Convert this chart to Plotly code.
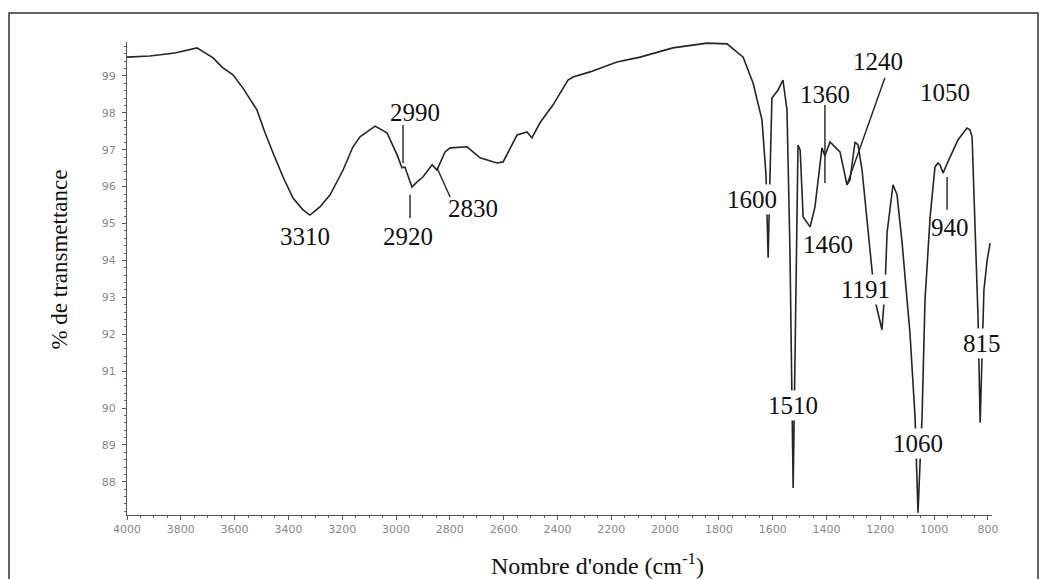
import plotly.graph_objects as go

# ---- data ----
wavenumber = [4000, 3915, 3822, 3740, 3680, 3647, 3606, 3569, 3517, 3487, 3457, 3420, 3383, 3346, 3320,
              3283, 3245, 3197, 3160, 3134, 3078, 3034, 2996, 2978, 2967, 2956, 2941, 2922, 2900, 2866,
              2848, 2818, 2799, 2736, 2688, 2625, 2602, 2550, 2513, 2495, 2465, 2417, 2361, 2342, 2279,
              2179, 2093, 1971, 1844, 1770, 1710, 1673, 1640, 1625, 1617, 1610, 1603, 1580, 1562, 1547,
              1536, 1524, 1513, 1506, 1498, 1487, 1461, 1443, 1417, 1406, 1387, 1350, 1324, 1313, 1294,
              1283, 1268, 1238, 1220, 1194, 1183, 1175, 1153, 1138, 1119, 1104, 1090, 1071, 1060, 1052,
              1045, 1034, 1015, 997, 986, 978, 967, 941, 911, 878, 867, 859, 848, 837, 829,
              822, 815, 803, 792]
transmittance = [99.51, 99.54, 99.62, 99.76, 99.49, 99.24, 99.03, 98.67, 98.08, 97.46, 96.91, 96.26, 95.69, 95.37, 95.23,
                 95.45, 95.78, 96.45, 97.08, 97.35, 97.64, 97.46, 96.86, 96.51, 96.53, 96.32, 95.99, 96.13, 96.26, 96.59,
                 96.45, 96.94, 97.05, 97.08, 96.78, 96.64, 96.67, 97.40, 97.48, 97.32, 97.73, 98.21, 98.89, 98.97, 99.11,
                 99.38, 99.51, 99.76, 99.89, 99.87, 99.51, 98.81, 97.81, 96.32, 94.07, 96.32, 98.40, 98.62, 98.89, 98.08,
                 94.28, 87.83, 94.28, 97.13, 96.99, 95.18, 94.91, 95.45, 97.05, 96.83, 97.21, 96.94, 96.05, 96.18, 97.21,
                 97.13, 96.45, 94.20, 92.93, 92.12, 93.20, 94.75, 96.05, 95.78, 94.47, 93.20, 92.04, 89.76, 87.16, 88.59,
                 89.76, 92.93, 95.18, 96.53, 96.64, 96.59, 96.37, 96.80, 97.27, 97.59, 97.54, 97.35, 95.18, 92.47, 89.60,
                 91.57, 93.20, 94.01, 94.47]

# peak labels: text, label x (cm-1), label y (%T), white background?
peak_labels = ["3310", "2990", "2920", "2830", "1600", "1360", "1240", "1050",
               "1460", "940", "1191", "815", "1510", "1060"]
label_x = [3338, 2930, 2956, 2714, 1677, 1406, 1209, 960, 1394, 941, 1257, 822, 1524, 1060]
label_y = [94.64, 98.0, 94.64, 95.42, 95.64, 98.49, 99.38, 98.54, 94.42, 94.88, 93.20, 91.76, 90.08, 89.05]
label_bg = [False, False, False, False, True, False, False, False, False, False, True, True, True, True]

# leader lines (x0, y0, x1, y1) in data units
leaders = [(2974, 97.67, 2974, 96.64), (2948, 95.78, 2948, 95.15), (2848, 96.51, 2799, 95.72),
           (1406, 98.21, 1406, 96.10), (1183, 98.95, 1324, 96.05), (952, 96.26, 952, 95.37)]

xtick_vals = list(range(4000, 799, -200))
ytick_vals = list(range(88, 100))

fig = go.Figure()
fig.add_trace(go.Scatter(x=wavenumber, y=transmittance, mode="lines",
                         line=dict(color="#252525", width=1.6), showlegend=False, hoverinfo="skip"))

for (x0, y0, x1, y1) in leaders:
    fig.add_shape(type="line", x0=x0, y0=y0, x1=x1, y1=y1, xref="x", yref="y",
                  line=dict(color="#222", width=1.4))

for t, lx, ly, bg in zip(peak_labels, label_x, label_y, label_bg):
    fig.add_annotation(x=lx, y=ly, text=t, showarrow=False, xref="x", yref="y",
                       font=dict(family="Liberation Serif", size=25, color="#111"),
                       bgcolor="white" if bg else "rgba(0,0,0,0)", borderpad=1)

# axis titles
fig.add_annotation(x=0.5434, y=-0.1036, xref="paper", yref="paper", showarrow=False,
                   text="Nombre d'onde (cm<sup>-1</sup>)", yanchor="middle",
                   font=dict(family="Liberation Serif", size=24, color="#111"))
fig.add_annotation(x=-0.0948, y=0.541, xref="paper", yref="paper", showarrow=False,
                   text="% de transmettance", textangle=-90,
                   font=dict(family="Liberation Serif", size=23, color="#111"))

# outer frame
fig.add_shape(type="rect", xref="paper", yref="paper", x0=-0.1364, x1=1.0532, y0=-0.2, y1=1.0613,
              line=dict(color="#333", width=1.5), fillcolor="rgba(0,0,0,0)", layer="below")

fig.update_xaxes(range=[4000, 785], tickvals=xtick_vals, ticktext=[str(v) for v in xtick_vals],
                 showgrid=False, zeroline=False, showline=True, linecolor="#555", linewidth=1,
                 ticks="outside", ticklen=4, tickcolor="#555",
                 tickfont=dict(family="DejaVu Sans", size=11, color="#888"),
                 minor=dict(dtick=50, ticks="outside", ticklen=2, tickcolor="#666", showgrid=False),
                 mirror=False)
fig.update_yaxes(range=[87.1, 99.92], tickvals=ytick_vals, ticktext=[str(v) for v in ytick_vals],
                 showgrid=False, zeroline=False, showline=True, linecolor="#555", linewidth=1,
                 ticks="outside", ticklen=4, tickcolor="#555", ticklabelstandoff=4,
                 tickfont=dict(family="DejaVu Sans", size=11, color="#888"),
                 minor=dict(dtick=0.2, ticks="outside", ticklen=2, tickcolor="#666", showgrid=False),
                 mirror=False)

fig.update_layout(width=1043, height=579, margin=dict(l=127, r=51, t=42, b=64),
                  paper_bgcolor="white", plot_bgcolor="white")

fig.write_html("out.html")
